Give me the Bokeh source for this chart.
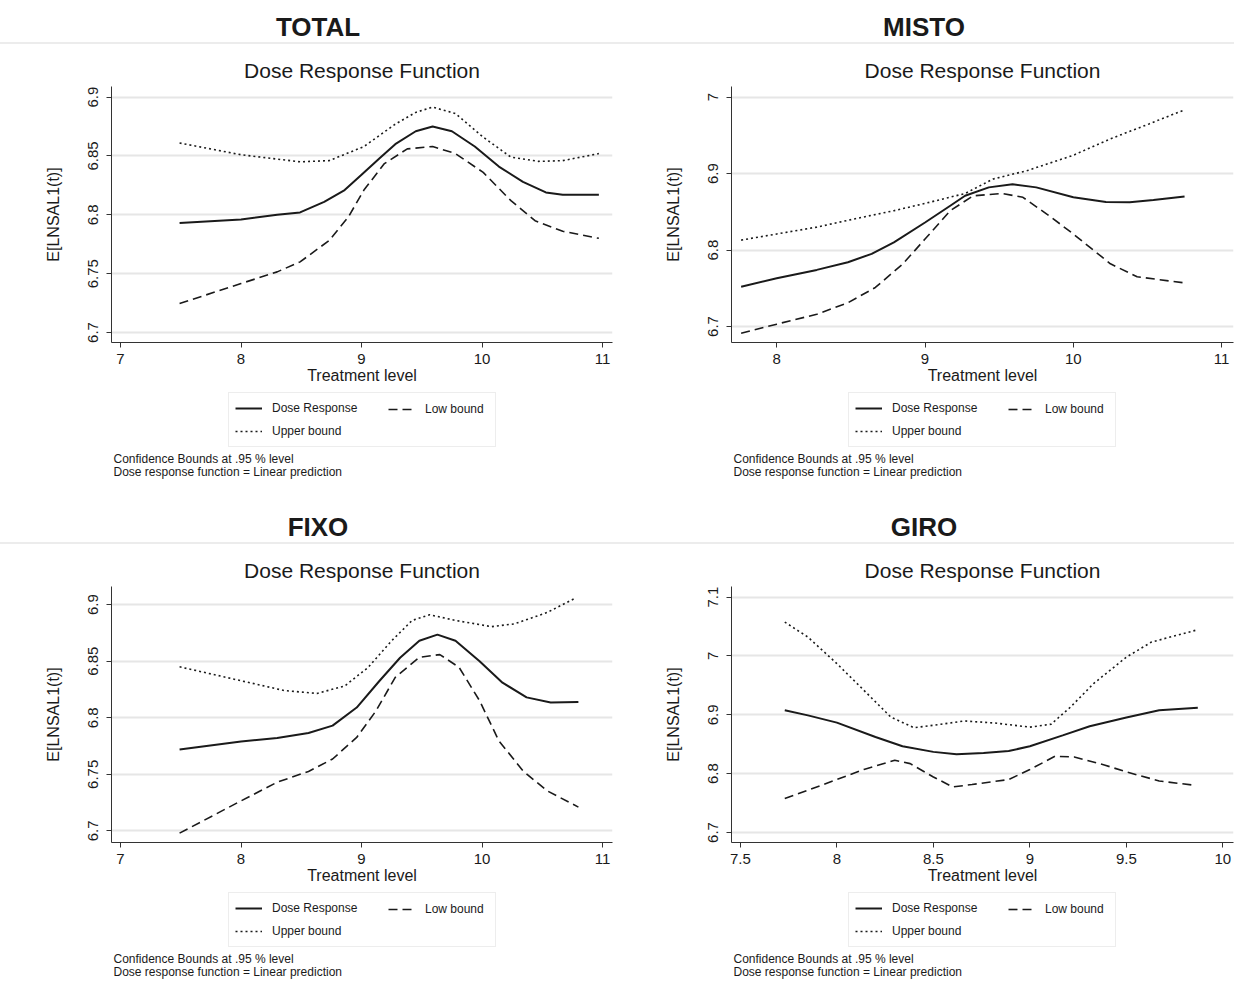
from bokeh.plotting import figure
from bokeh.models import Div, FixedTicker, CustomJSTickFormatter, Legend, LegendItem, Range1d, Label
from bokeh.layouts import column, row
from bokeh.embed import file_html
from bokeh.resources import INLINE

FONT = "Liberation Sans"
INK = "#1a1a1a"

# ---------------- data ----------------
panel_names = ["TOTAL", "MISTO", "FIXO", "GIRO"]

total_x_range = [6.925, 11.083]
total_y_range = [6.6915, 6.909]
total_xticks = [7, 8, 9, 10, 11]
total_yticks = [6.7, 6.75, 6.8, 6.85, 6.9]
total_dr_x = [7.49, 8.0, 8.30, 8.49, 8.69, 8.86, 9.0, 9.15, 9.28, 9.45, 9.59, 9.75, 9.94, 10.14, 10.34, 10.53, 10.67, 10.97]
total_dr_y = [6.793, 6.796, 6.800, 6.802, 6.811, 6.821, 6.834, 6.848, 6.860, 6.871, 6.875, 6.871, 6.858, 6.841, 6.828, 6.819, 6.817, 6.817]
total_up_x = [7.49, 8.0, 8.49, 8.73, 9.02, 9.28, 9.45, 9.59, 9.78, 10.01, 10.24, 10.47, 10.67, 10.97]
total_up_y = [6.861, 6.851, 6.845, 6.846, 6.858, 6.877, 6.887, 6.8915, 6.886, 6.866, 6.849, 6.8454, 6.846, 6.852]
total_lo_x = [7.49, 8.0, 8.30, 8.49, 8.73, 8.89, 9.02, 9.19, 9.38, 9.59, 9.78, 10.01, 10.24, 10.44, 10.67, 10.97]
total_lo_y = [6.7246, 6.7416, 6.7515, 6.760, 6.778, 6.798, 6.821, 6.8435, 6.856, 6.858, 6.852, 6.836, 6.812, 6.795, 6.786, 6.780]

misto_x_range = [7.695, 11.08]
misto_y_range = [6.679, 7.014]
misto_xticks = [8, 9, 10, 11]
misto_yticks = [6.7, 6.8, 6.9, 7.0]
misto_dr_x = [7.76, 8.0, 8.27, 8.48, 8.64, 8.79, 9.0, 9.17, 9.27, 9.43, 9.59, 9.75, 10.0, 10.22, 10.38, 10.54, 10.75]
misto_dr_y = [6.752, 6.763, 6.774, 6.784, 6.795, 6.810, 6.836, 6.858, 6.871, 6.882, 6.886, 6.882, 6.869, 6.863, 6.8624, 6.8655, 6.870]
misto_up_x = [7.76, 8.0, 8.27, 8.53, 8.79, 9.0, 9.27, 9.46, 9.69, 10.0, 10.25, 10.51, 10.75]
misto_up_y = [6.813, 6.821, 6.830, 6.841, 6.8515, 6.861, 6.874, 6.893, 6.904, 6.924, 6.9455, 6.965, 6.9835]
misto_lo_x = [7.76, 8.0, 8.27, 8.48, 8.665, 8.85, 9.0, 9.17, 9.325, 9.52, 9.66, 9.85, 10.0, 10.25, 10.43, 10.75]
misto_lo_y = [6.691, 6.703, 6.716, 6.731, 6.751, 6.7817, 6.8144, 6.8515, 6.871, 6.874, 6.869, 6.843, 6.821, 6.782, 6.765, 6.757]

fixo_x_range = [6.925, 11.083]
fixo_y_range = [6.6897, 6.916]
fixo_xticks = [7, 8, 9, 10, 11]
fixo_yticks = [6.7, 6.75, 6.8, 6.85, 6.9]
fixo_dr_x = [7.49, 8.0, 8.30, 8.56, 8.76, 8.96, 9.15, 9.32, 9.48, 9.63, 9.78, 9.98, 10.17, 10.37, 10.57, 10.80]
fixo_dr_y = [6.772, 6.779, 6.782, 6.7865, 6.793, 6.809, 6.8327, 6.853, 6.868, 6.8735, 6.868, 6.850, 6.831, 6.818, 6.8135, 6.814]
fixo_up_x = [7.49, 8.0, 8.36, 8.63, 8.86, 9.055, 9.25, 9.42, 9.566, 9.78, 10.08, 10.27, 10.54, 10.78]
fixo_up_y = [6.845, 6.8327, 6.824, 6.8215, 6.828, 6.8445, 6.868, 6.886, 6.891, 6.886, 6.8805, 6.883, 6.893, 6.906]
fixo_lo_x = [7.49, 8.0, 8.30, 8.56, 8.76, 8.96, 9.12, 9.28, 9.48, 9.65, 9.81, 9.98, 10.14, 10.34, 10.54, 10.80]
fixo_lo_y = [6.698, 6.7265, 6.743, 6.7525, 6.7635, 6.7826, 6.806, 6.8357, 6.8534, 6.8558, 6.8445, 6.815, 6.7796, 6.753, 6.7354, 6.721]

giro_x_range = [7.454, 10.055]
giro_y_range = [6.683, 7.118]
giro_xticks = [7.5, 8, 8.5, 9, 9.5, 10]
giro_yticks = [6.7, 6.8, 6.9, 7.0, 7.1]
giro_dr_x = [7.73, 7.85, 8.0, 8.20, 8.34, 8.5, 8.62, 8.76, 8.89, 9.0, 9.17, 9.31, 9.5, 9.67, 9.87]
giro_dr_y = [6.9076, 6.899, 6.8867, 6.8623, 6.8465, 6.837, 6.833, 6.835, 6.8385, 6.8465, 6.865, 6.8805, 6.8953, 6.9076, 6.912]
giro_up_x = [7.73, 7.85, 8.0, 8.14, 8.28, 8.40, 8.54, 8.66, 8.82, 9.0, 9.11, 9.21, 9.33, 9.5, 9.63, 9.87]
giro_up_y = [7.0576, 7.032, 6.987, 6.9416, 6.896, 6.878, 6.884, 6.8895, 6.886, 6.879, 6.884, 6.913, 6.953, 6.998, 7.0236, 7.0446]
giro_lo_x = [7.73, 7.85, 8.0, 8.14, 8.30, 8.38, 8.5, 8.60, 8.70, 8.89, 9.0, 9.13, 9.23, 9.39, 9.5, 9.67, 9.85]
giro_lo_y = [6.7577, 6.7718, 6.79, 6.807, 6.8227, 6.817, 6.7944, 6.7774, 6.7815, 6.79, 6.807, 6.8295, 6.8284, 6.8143, 6.803, 6.7876, 6.7803]

legend_labels = ["Dose Response", "Low bound", "Upper bound"]
note_lines = ["Confidence Bounds at .95 % level", "Dose response function = Linear prediction"]
subtitle = "Dose Response Function"
x_label = "Treatment level"
y_label = "E[LNSAL1(t)]"

FRAME_H = 256
DR_STYLE = dict(line_color=INK, line_width=2)
LO_STYLE = dict(line_color=INK, line_width=1.6, line_dash="9 5")
UP_STYLE = dict(line_color=INK, line_width=1.6, line_dash="2 3")


def make_panel(name, xr, yr, xt, yt, dr, lo, up, fig_w, left_b, frame_w, indent, leg_h):
    title_div = Div(text=name, width=fig_w, height=44, margin=0,
                    styles={"font-family": FONT, "font-size": "26px", "font-weight": "bold",
                            "text-align": "center", "color": INK, "line-height": "26px",
                            "padding-top": "14px", "box-sizing": "border-box",
                            "text-indent": "%dpx" % indent,
                            "border-bottom": "2px solid #ececec"})
    right_b = fig_w - left_b - frame_w
    p = figure(frame_width=frame_w, frame_height=FRAME_H,
               x_range=Range1d(*xr), y_range=Range1d(*yr),
               output_backend="svg", toolbar_location=None,
               min_border_left=left_b, min_border_right=right_b,
               min_border_top=42, min_border_bottom=47)
    p.outline_line_color = None
    p.title.text = subtitle
    p.title.align = "center"
    p.title.text_font = FONT
    p.title.text_font_size = "21px"
    p.title.text_font_style = "normal"
    p.title.text_color = INK
    p.title.standoff = 9

    p.xgrid.visible = False
    p.ygrid.grid_line_color = "#e6e6e6"
    p.ygrid.grid_line_width = 2

    fmt = "return String(Math.round(tick*1000)/1000);"
    p.xaxis.ticker = FixedTicker(ticks=xt)
    p.yaxis.ticker = FixedTicker(ticks=yt)
    p.xaxis.formatter = CustomJSTickFormatter(code=fmt)
    p.yaxis.formatter = CustomJSTickFormatter(code=fmt)
    for ax in (p.xaxis[0], p.yaxis[0]):
        ax.axis_line_color = "#333333"
        ax.major_tick_line_color = "#333333"
        ax.major_tick_out = 5
        ax.major_tick_in = 0
        ax.minor_tick_line_color = None
        ax.major_label_text_font = FONT
        ax.major_label_text_font_size = "15px"
        ax.major_label_text_color = INK
        ax.axis_label_text_font = FONT
        ax.axis_label_text_font_size = "16px"
        ax.axis_label_text_font_style = "normal"
        ax.axis_label_text_color = INK
    p.xaxis.axis_label = x_label
    p.xaxis.major_label_standoff = 6
    p.xaxis.axis_label_standoff = 0
    p.yaxis.axis_label = y_label
    p.yaxis.major_label_orientation = "vertical"
    p.yaxis.major_label_standoff = 8
    p.yaxis.axis_label_standoff = 24

    p.line(dr[0], dr[1], **DR_STYLE)
    p.line(lo[0], lo[1], **LO_STYLE)
    p.line(up[0], up[1], **UP_STYLE)

    # legend + notes strip: same borders as the plot, so frames stay aligned
    lf = figure(frame_width=frame_w, frame_height=leg_h, x_range=Range1d(0, 1), y_range=Range1d(0, 1),
                x_axis_location=None, y_axis_location=None, toolbar_location=None,
                output_backend="svg", min_border_left=left_b, min_border_right=right_b,
                min_border_top=0, min_border_bottom=0)
    for g in lf.grid:
        g.visible = False
    lf.outline_line_color = None
    # same series (they fall outside this strip's 0..1 ranges, so only their legend glyphs show)
    g_dr = lf.line(dr[0], dr[1], **DR_STYLE)
    g_lo = lf.line(lo[0], lo[1], **LO_STYLE)
    g_up = lf.line(up[0], up[1], **UP_STYLE)

    common = dict(orientation="vertical", spacing=5, margin=0,
                  glyph_width=27, glyph_height=18, label_height=18, label_standoff=10,
                  label_text_font=FONT, label_text_font_size="12px", label_text_color=INK)
    leg_a = Legend(items=[LegendItem(label=legend_labels[0], renderers=[g_dr]),
                          LegendItem(label=legend_labels[2], renderers=[g_up])],
                   location=(117, leg_h - 58), padding=6, label_width=217,
                   border_line_color="#dcdcdc", border_line_width=1,
                   background_fill_color="white", background_fill_alpha=1, **common)
    leg_b = Legend(items=[LegendItem(label=legend_labels[1], renderers=[g_lo])],
                   location=(277, leg_h - 29), padding=0, label_width=20,
                   border_line_color=None, background_fill_alpha=0, **common)
    lf.add_layout(leg_a)
    lf.add_layout(leg_b)

    for i, t in enumerate(note_lines):
        lf.add_layout(Label(x=2, y=leg_h - 69 - 13 * i, x_units="screen", y_units="screen", text=t,
                            text_font=FONT, text_font_size="12px", text_color=INK,
                            text_baseline="middle", text_align="left"))
    return column(title_div, p, lf, spacing=0)


WL, WR = 620, 614
p1 = make_panel(panel_names[0], total_x_range, total_y_range, total_xticks, total_yticks,
                (total_dr_x, total_dr_y), (total_lo_x, total_lo_y), (total_up_x, total_up_y),
                WL, 111, 501, 16, 111)
p2 = make_panel(panel_names[1], misto_x_range, misto_y_range, misto_xticks, misto_yticks,
                (misto_dr_x, misto_dr_y), (misto_lo_x, misto_lo_y), (misto_up_x, misto_up_y),
                WR, 111, 502, -6, 111)
p3 = make_panel(panel_names[2], fixo_x_range, fixo_y_range, fixo_xticks, fixo_yticks,
                (fixo_dr_x, fixo_dr_y), (fixo_lo_x, fixo_lo_y), (fixo_up_x, fixo_up_y),
                WL, 111, 501, 16, 98)
p4 = make_panel(panel_names[3], giro_x_range, giro_y_range, giro_xticks, giro_yticks,
                (giro_dr_x, giro_dr_y), (giro_lo_x, giro_lo_y), (giro_up_x, giro_up_y),
                WR, 111, 502, -6, 98)

layout = column(row(p1, p2, spacing=0), row(p3, p4, spacing=0), spacing=0)
open("out.html", "w").write(file_html(layout, INLINE))
